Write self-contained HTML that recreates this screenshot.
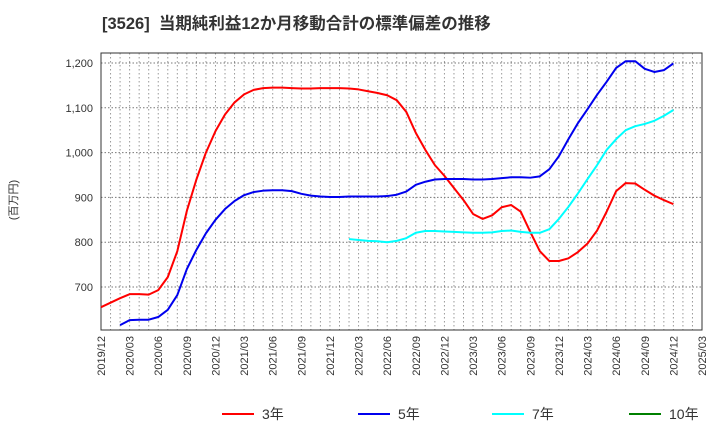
<!DOCTYPE html>
<html><head><meta charset="utf-8"><style>
body{margin:0;background:#fff;font-family:"Liberation Sans","Noto Sans CJK JP",sans-serif;}
</style></head><body>
<svg id="chart" width="720" height="440" xmlns="http://www.w3.org/2000/svg" font-family="Liberation Sans, Noto Sans CJK JP, sans-serif">
<text x="102" y="29" font-size="16.5" font-weight="bold" fill="#333" style="white-space:pre">[3526]  当期純利益12か月移動合計の標準偏差の推移</text>
<text transform="translate(17,200) rotate(-90)" font-size="11" text-anchor="middle" fill="#333">(百万円)</text>
<g id="grid"></g><g id="axes"></g><g id="series"></g><g id="legend"></g>
</svg>
<script>
const yTicks=[700,800,900,1000,1100,1200];
const xTickLabels=["2019/12","2020/03","2020/06","2020/09","2020/12","2021/03","2021/06","2021/09","2021/12","2022/03","2022/06","2022/09","2022/12","2023/03","2023/06","2023/09","2023/12","2024/03","2024/06","2024/09","2024/12","2025/03"];
const s3Start=0;
const s3=[655,665,675,684,684,683,693,722,780,870,940,1000,1048,1085,1112,1130,1140,1144,1145,1145,1144,1143,1143,1144,1144,1144,1143,1141,1137,1133,1128,1117,1091,1044,1006,972,948,921,894,863,852,860,878,883,868,823,780,758,758,764,778,797,826,868,914,932,931,917,904,894,885];
const s5Start=2;
const s5=[615,626,627,627,633,649,682,740,783,820,850,874,892,905,912,915,916,916,914,908,904,902,901,901,902,902,902,902,903,906,913,928,935,940,941,941,941,940,940,941,943,945,945,944,947,963,992,1030,1066,1097,1129,1158,1189,1204,1204,1187,1180,1184,1199];
const s7Start=26;
const s7=[807,805,803,802,800,803,809,821,825,825,824,823,822,821,821,822,825,826,823,821,821,829,852,879,909,941,972,1006,1030,1050,1059,1064,1071,1082,1095];
const s10Start=0;
const s10=[];
const X0=101,X1=702,Y0=53,Y1=330;
const months=63;
function xs(i){return X0+(X1-X0)*i/months;}
function ys(v){return 63+(1200-v)*0.448;}
const NS="http://www.w3.org/2000/svg";
function mk(t,a,p){const e=document.createElementNS(NS,t);for(const k in a)e.setAttribute(k,a[k]);p.appendChild(e);return e;}
const grid=document.getElementById('grid'),axes=document.getElementById('axes'),ser=document.getElementById('series'),leg=document.getElementById('legend');
for(let i=1;i<months;i++){const l=mk('line',{x1:xs(i),x2:xs(i),y1:Y0,y2:Y1,stroke:'#999','stroke-dasharray':'1.5,2.5','stroke-width':1},grid);

}
yTicks.forEach(v=>{const l=mk('line',{x1:X0,x2:X1,y1:ys(v),y2:ys(v),stroke:'#777','stroke-dasharray':'1.5,2','stroke-width':1},grid);


const t=mk('text',{x:X0-8,y:ys(v)+4,'font-size':11,'text-anchor':'end',fill:'#333'},axes);t.textContent=v.toLocaleString('en-US');

});
const fr=mk('rect',{x:X0,y:Y0,width:X1-X0,height:Y1-Y0,fill:'none',stroke:'#333','stroke-width':1},axes);


xTickLabels.forEach((s,i)=>{const x=xs(i*3);const t=mk('text',{transform:`translate(${x+4},${Y1+6}) rotate(-90)`,'font-size':11,'text-anchor':'end',fill:'#333'},axes);t.textContent=s;

});
function line(arr,start,color,name){if(!arr.length)return;const p=mk('polyline',{points:arr.map((v,i)=>xs(start+i)+','+ys(v)).join(' '),fill:'none',stroke:color,'stroke-width':2,'stroke-linejoin':'round'},ser);

}
line(s3,s3Start,'#ff0000','series-3y');
line(s5,s5Start,'#0000ee','series-5y');
line(s7,s7Start,'#00ffff','series-7y');
line(s10,s10Start,'#008000','series-10y');
const items=[['3年','#ff0000',222],['5年','#0000ee',358],['7年','#00ffff',492],['10年','#008000',629]];
items.forEach(([lab,c,x])=>{const g=mk('g',{},leg);


mk('line',{x1:x,x2:x+32,y1:414,y2:414,stroke:c,'stroke-width':2},g);
const t=mk('text',{x:x+40,y:419,'font-size':14,fill:'#333'},g);t.textContent=lab;});
</script>
</body></html>
